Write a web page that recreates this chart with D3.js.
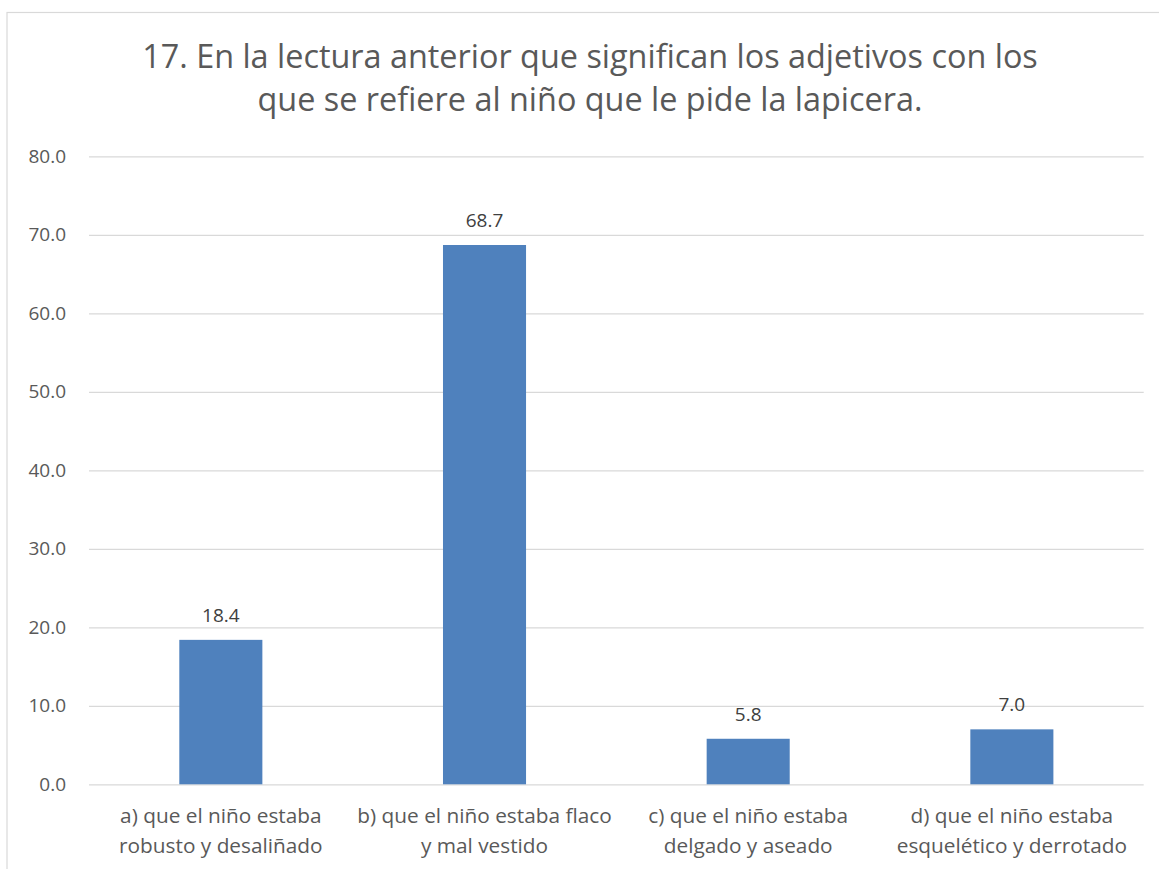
<!DOCTYPE html>
<html>
<head>
<meta charset="utf-8">
<script src="https://cdn.jsdelivr.net/npm/d3@7"></script>
<style>
  html, body { margin: 0; padding: 0; background: #fff; }
  svg { display: block; }
  text { font-family: "Open Sans", "Noto Sans", sans-serif; }
</style>
</head>
<body>
<svg id="chart" width="1159" height="869"></svg>
<script>
const titleLines = [
  "17. En la lectura anterior que significan los adjetivos con los",
  "que se refiere al niño que le pide la lapicera."
];
const categories = [
  ["a) que el niño estaba", "robusto y desaliñado"],
  ["b) que el niño estaba flaco", "y mal vestido"],
  ["c) que el niño estaba", "delgado y aseado"],
  ["d) que el niño estaba", "esquelético y derrotado"]
];
const values = [18.4, 68.7, 5.8, 7.0];
const tickValues = [0, 10, 20, 30, 40, 50, 60, 70, 80];

const W = 1159, H = 869;
const plot = { left: 89, right: 1143.7, top: 156.3, bottom: 784.3 };
const svg = d3.select("#chart");

// chart border (partially clipped)
svg.append("rect")
  .attr("x", 7).attr("y", 12.5)
  .attr("width", W + 20).attr("height", H + 20)
  .attr("fill", "#fff").attr("stroke", "#d9d9d9").attr("stroke-width", 1.2);

const keys = categories.map((c, i) => i);
const x = d3.scaleBand().domain(keys).range([plot.left, plot.right])
  .paddingInner(0.685).paddingOuter(0.3425);
const y = d3.scaleLinear().domain([0, 80]).range([plot.bottom, plot.top]);

// gridlines
const yAxis = d3.axisLeft(y).tickValues(tickValues)
  .tickSize(-(plot.right - plot.left)).tickFormat(d3.format(".1f")).tickPadding(23);
const gy = svg.append("g").attr("transform", `translate(${plot.left},0)`).call(yAxis);
gy.select(".domain").remove();
gy.selectAll(".tick line").attr("stroke", "#d9d9d9").attr("stroke-width", 1.3);
gy.selectAll(".tick text").attr("fill", "#595959").attr("font-size", 19)
  .attr("font-family", "'Open Sans', sans-serif");

// bars
svg.append("g").selectAll("rect").data(values).join("rect")
  .attr("x", (d, i) => x(i))
  .attr("y", d => y(d))
  .attr("width", x.bandwidth())
  .attr("height", d => y(0) - y(d))
  .attr("fill", "#4f81bd");

// value labels
svg.append("g").selectAll("text").data(values).join("text")
  .attr("x", (d, i) => x(i) + x.bandwidth() / 2)
  .attr("y", d => y(d) - 18)
  .attr("text-anchor", "middle")
  .attr("fill", "#404040").attr("font-size", 19)
  .text(d => d3.format(".1f")(d));

// category labels
const cat = svg.append("g").selectAll("text").data(categories).join("text")
  .attr("text-anchor", "middle")
  .attr("fill", "#595959").attr("font-size", 20.8);
cat.selectAll("tspan").data((d, i) => d.map(t => ({ t, i }))).join("tspan")
  .attr("x", d => x(d.i) + x.bandwidth() / 2)
  .attr("y", (d, j) => 823 + j * 30)
  .text(d => d.t);

// title
svg.append("g").selectAll("text").data(titleLines).join("text")
  .attr("x", 590)
  .attr("y", (d, i) => 68 + i * 43)
  .attr("text-anchor", "middle")
  .attr("fill", "#595959").attr("font-size", 32.4)
  .text(d => d);
</script>
</body>
</html>
